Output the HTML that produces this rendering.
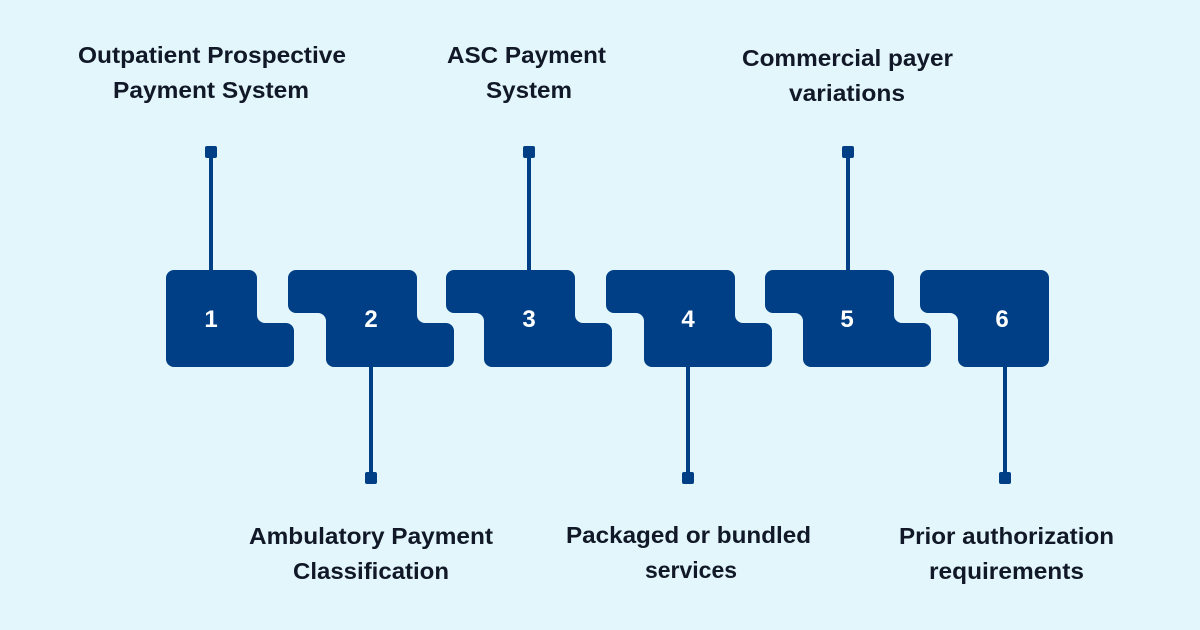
<!DOCTYPE html>
<html><head><style>
html,body{margin:0;padding:0;background:#e2f6fb;}
svg{display:block;}
text{font-family:"Liberation Sans",sans-serif;font-weight:bold;}
.l{font-size:23px;fill:#111827;text-anchor:middle;}
.n{font-size:24px;fill:#fff;text-anchor:middle;}
</style></head><body>
<svg width="1200" height="630" viewBox="0 0 1200 630" xmlns="http://www.w3.org/2000/svg">
<rect width="1200" height="630" fill="#e2f6fb"/>
<defs>
<path id="A" d="M -30 270 H 83 A 8 8 0 0 1 91 278 V 315 A 8 8 0 0 0 99 323 H 120 A 8 8 0 0 1 128 331 V 359 A 8 8 0 0 1 120 367 H 8 A 8 8 0 0 1 0 359 V 321 A 8 8 0 0 0 -8 313 H -30 A 8 8 0 0 1 -38 305 V 278 A 8 8 0 0 1 -30 270 Z"/>
</defs>
<g fill="#003f85">
<path transform="translate(166,0)" d="M 8 270 H 83 A 8 8 0 0 1 91 278 V 315 A 8 8 0 0 0 99 323 H 120 A 8 8 0 0 1 128 331 V 359 A 8 8 0 0 1 120 367 H 8 A 8 8 0 0 1 0 359 V 278 A 8 8 0 0 1 8 270 Z"/>
<use href="#A" transform="translate(326,0)"/>
<use href="#A" transform="translate(484,0)"/>
<use href="#A" transform="translate(644,0)"/>
<use href="#A" transform="translate(803,0)"/>
<path transform="translate(958,0)" d="M -30 270 H 83 A 8 8 0 0 1 91 278 V 359 A 8 8 0 0 1 83 367 H 8 A 8 8 0 0 1 0 359 V 321 A 8 8 0 0 0 -8 313 H -30 A 8 8 0 0 1 -38 305 V 278 A 8 8 0 0 1 -30 270 Z"/>
</g>
<g stroke="#003f85" stroke-width="4">
<line x1="211" y1="152" x2="211" y2="270"/>
<line x1="529" y1="152" x2="529" y2="270"/>
<line x1="848" y1="152" x2="848" y2="270"/>
<line x1="371" y1="367" x2="371" y2="478"/>
<line x1="688" y1="367" x2="688" y2="478"/>
<line x1="1005" y1="367" x2="1005" y2="478"/>
</g>
<g fill="#003f85">
<rect x="205" y="146" width="12" height="12" rx="2"/>
<rect x="523" y="146" width="12" height="12" rx="2"/>
<rect x="842" y="146" width="12" height="12" rx="2"/>
<rect x="365" y="472" width="12" height="12" rx="2"/>
<rect x="682" y="472" width="12" height="12" rx="2"/>
<rect x="999" y="472" width="12" height="12" rx="2"/>
</g>
<text class="n" x="211" y="327">1</text>
<text class="n" x="371" y="327">2</text>
<text class="n" x="529" y="327">3</text>
<text class="n" x="688" y="327">4</text>
<text class="n" x="847" y="327">5</text>
<text class="n" x="1002" y="327">6</text>
<g lengthAdjust="spacingAndGlyphs">
<text class="l" x="212" y="63" textLength="268" lengthAdjust="spacingAndGlyphs">Outpatient Prospective</text>
<text class="l" x="211" y="98" textLength="196" lengthAdjust="spacingAndGlyphs">Payment System</text>
<text class="l" x="526.5" y="63" textLength="159" lengthAdjust="spacingAndGlyphs">ASC Payment</text>
<text class="l" x="529" y="98" textLength="86" lengthAdjust="spacingAndGlyphs">System</text>
<text class="l" x="847.5" y="66" textLength="211" lengthAdjust="spacingAndGlyphs">Commercial payer</text>
<text class="l" x="847" y="101" textLength="116" lengthAdjust="spacingAndGlyphs">variations</text>
<text class="l" x="371" y="544" textLength="244" lengthAdjust="spacingAndGlyphs">Ambulatory Payment</text>
<text class="l" x="371" y="579" textLength="156" lengthAdjust="spacingAndGlyphs">Classification</text>
<text class="l" x="688.5" y="543" textLength="245" lengthAdjust="spacingAndGlyphs">Packaged or bundled</text>
<text class="l" x="691" y="578" textLength="92" lengthAdjust="spacingAndGlyphs">services</text>
<text class="l" x="1006.5" y="544" textLength="215" lengthAdjust="spacingAndGlyphs">Prior authorization</text>
<text class="l" x="1006.5" y="579" textLength="155" lengthAdjust="spacingAndGlyphs">requirements</text>
</g>
</svg>
</body></html>
